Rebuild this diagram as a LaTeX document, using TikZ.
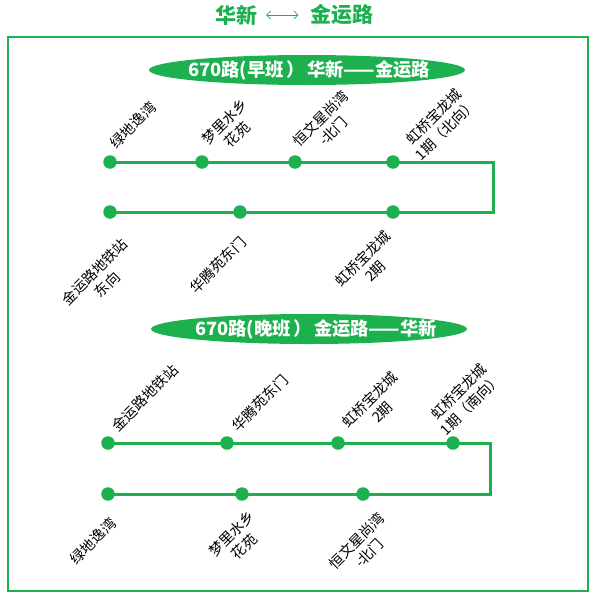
\documentclass[tikz,border=0pt]{standalone}
\usepackage{fontspec}
\setmainfont{Noto Sans CJK SC}
\usetikzlibrary{arrows.meta}
\definecolor{routegreen}{HTML}{1DB04F}

\begin{document}
\begin{tikzpicture}[x=1pt, y=-1pt, >=Stealth,
  stop/.style={circle, fill=routegreen, inner sep=0pt, minimum size=13.5pt},
  route/.style={routegreen, line width=3pt},
  lbl/.style={rotate=45, align=center, inner sep=0pt, font=\fontsize{14.3}{17.5}\selectfont},
  oval/.style={fill=routegreen, x radius=158pt, y radius=15pt},
  banner/.style={text=white, inner sep=0pt, font=\fontsize{18.3}{21}\selectfont\bfseries},
  headline/.style={text=routegreen, inner sep=0pt, font=\fontsize{21}{24}\selectfont\bfseries}]
  \useasboundingbox (0,0) rectangle (597,600);

  % Titel
  \node[headline] (from) at (236,15) {华新};
  \node[headline] (to) at (342,15) {金运路};
  \draw[{Straight Barb[length=4pt]}-{Straight Barb[length=4pt]}, routegreen, line width=0.6pt]
    ([xshift=9pt]from.east) -- ([xshift=-12pt]to.west);
  \draw[routegreen, line width=1.2pt] (8,37) rectangle (588,591);

  % 早班
  \fill[oval] (307,70) ellipse [];
  \node[banner] (early) at (309,70) {670路(早班\hspace{3pt}）\hspace{2pt}华新——金运路};
  \coordinate (ea) at (493,162);
  \coordinate (eb) at (493,212);
  \draw[route] (110,162) -- (ea) -- (eb) -- (110,212);
  \foreach \n/\x/\dx/\dy/\t in {a1/110/23/-37/{绿地逸湾}, a2/202/29/-34/{梦里水乡\\花苑},
      a3/295/32/-37/{恒文星尚湾\\-北门}, a4/393/47/-39/{虹桥宝龙城\\1期（北向）}} {
    \node[stop] (\n) at (\x,162) {};
    \node[lbl] at ([shift={(\dx,\dy)}]\n) {\t};
  }
  \foreach \n/\x/\dx/\dy/\t in {b1/110/-9/66/{金运路地铁站\\东向}, b2/240/-22/53/{华腾苑东门},
      b3/393/-24/53/{虹桥宝龙城\\2期}} {
    \node[stop] (\n) at (\x,212) {};
    \node[lbl] at ([shift={(\dx,\dy)}]\n) {\t};
  }

  % 晚班
  \fill[oval] (309,329) ellipse [];
  \node[banner] (late) at (316,329) {670路(晚班\hspace{3pt}）\hspace{2pt}金运路——华新};
  \coordinate (la) at (490,443);
  \coordinate (lb) at (490,494);
  \draw[route] (108,443) -- (la) -- (lb) -- (108,494);
  \foreach \n/\x/\dx/\dy/\t in {p1/108/37/-45/{金运路地铁站}, p2/227/33/-40/{华腾苑东门},
      p3/338/38/-37/{虹桥宝龙城\\2期}, p4/453/12/-45/{虹桥宝龙城\\1期（南向）}} {
    \node[stop] (\n) at (\x,443) {};
    \node[lbl] at ([shift={(\dx,\dy)}]\n) {\t};
  }
  \foreach \n/\x/\dx/\dy/\t in {q1/108/-15/47/{绿地逸湾}, q2/242/-4/46/{梦里水乡\\花苑},
      q3/363/0/53/{恒文星尚湾\\-北门}} {
    \node[stop] (\n) at (\x,494) {};
    \node[lbl] at ([shift={(\dx,\dy)}]\n) {\t};
  }
\end{tikzpicture}
\end{document}
